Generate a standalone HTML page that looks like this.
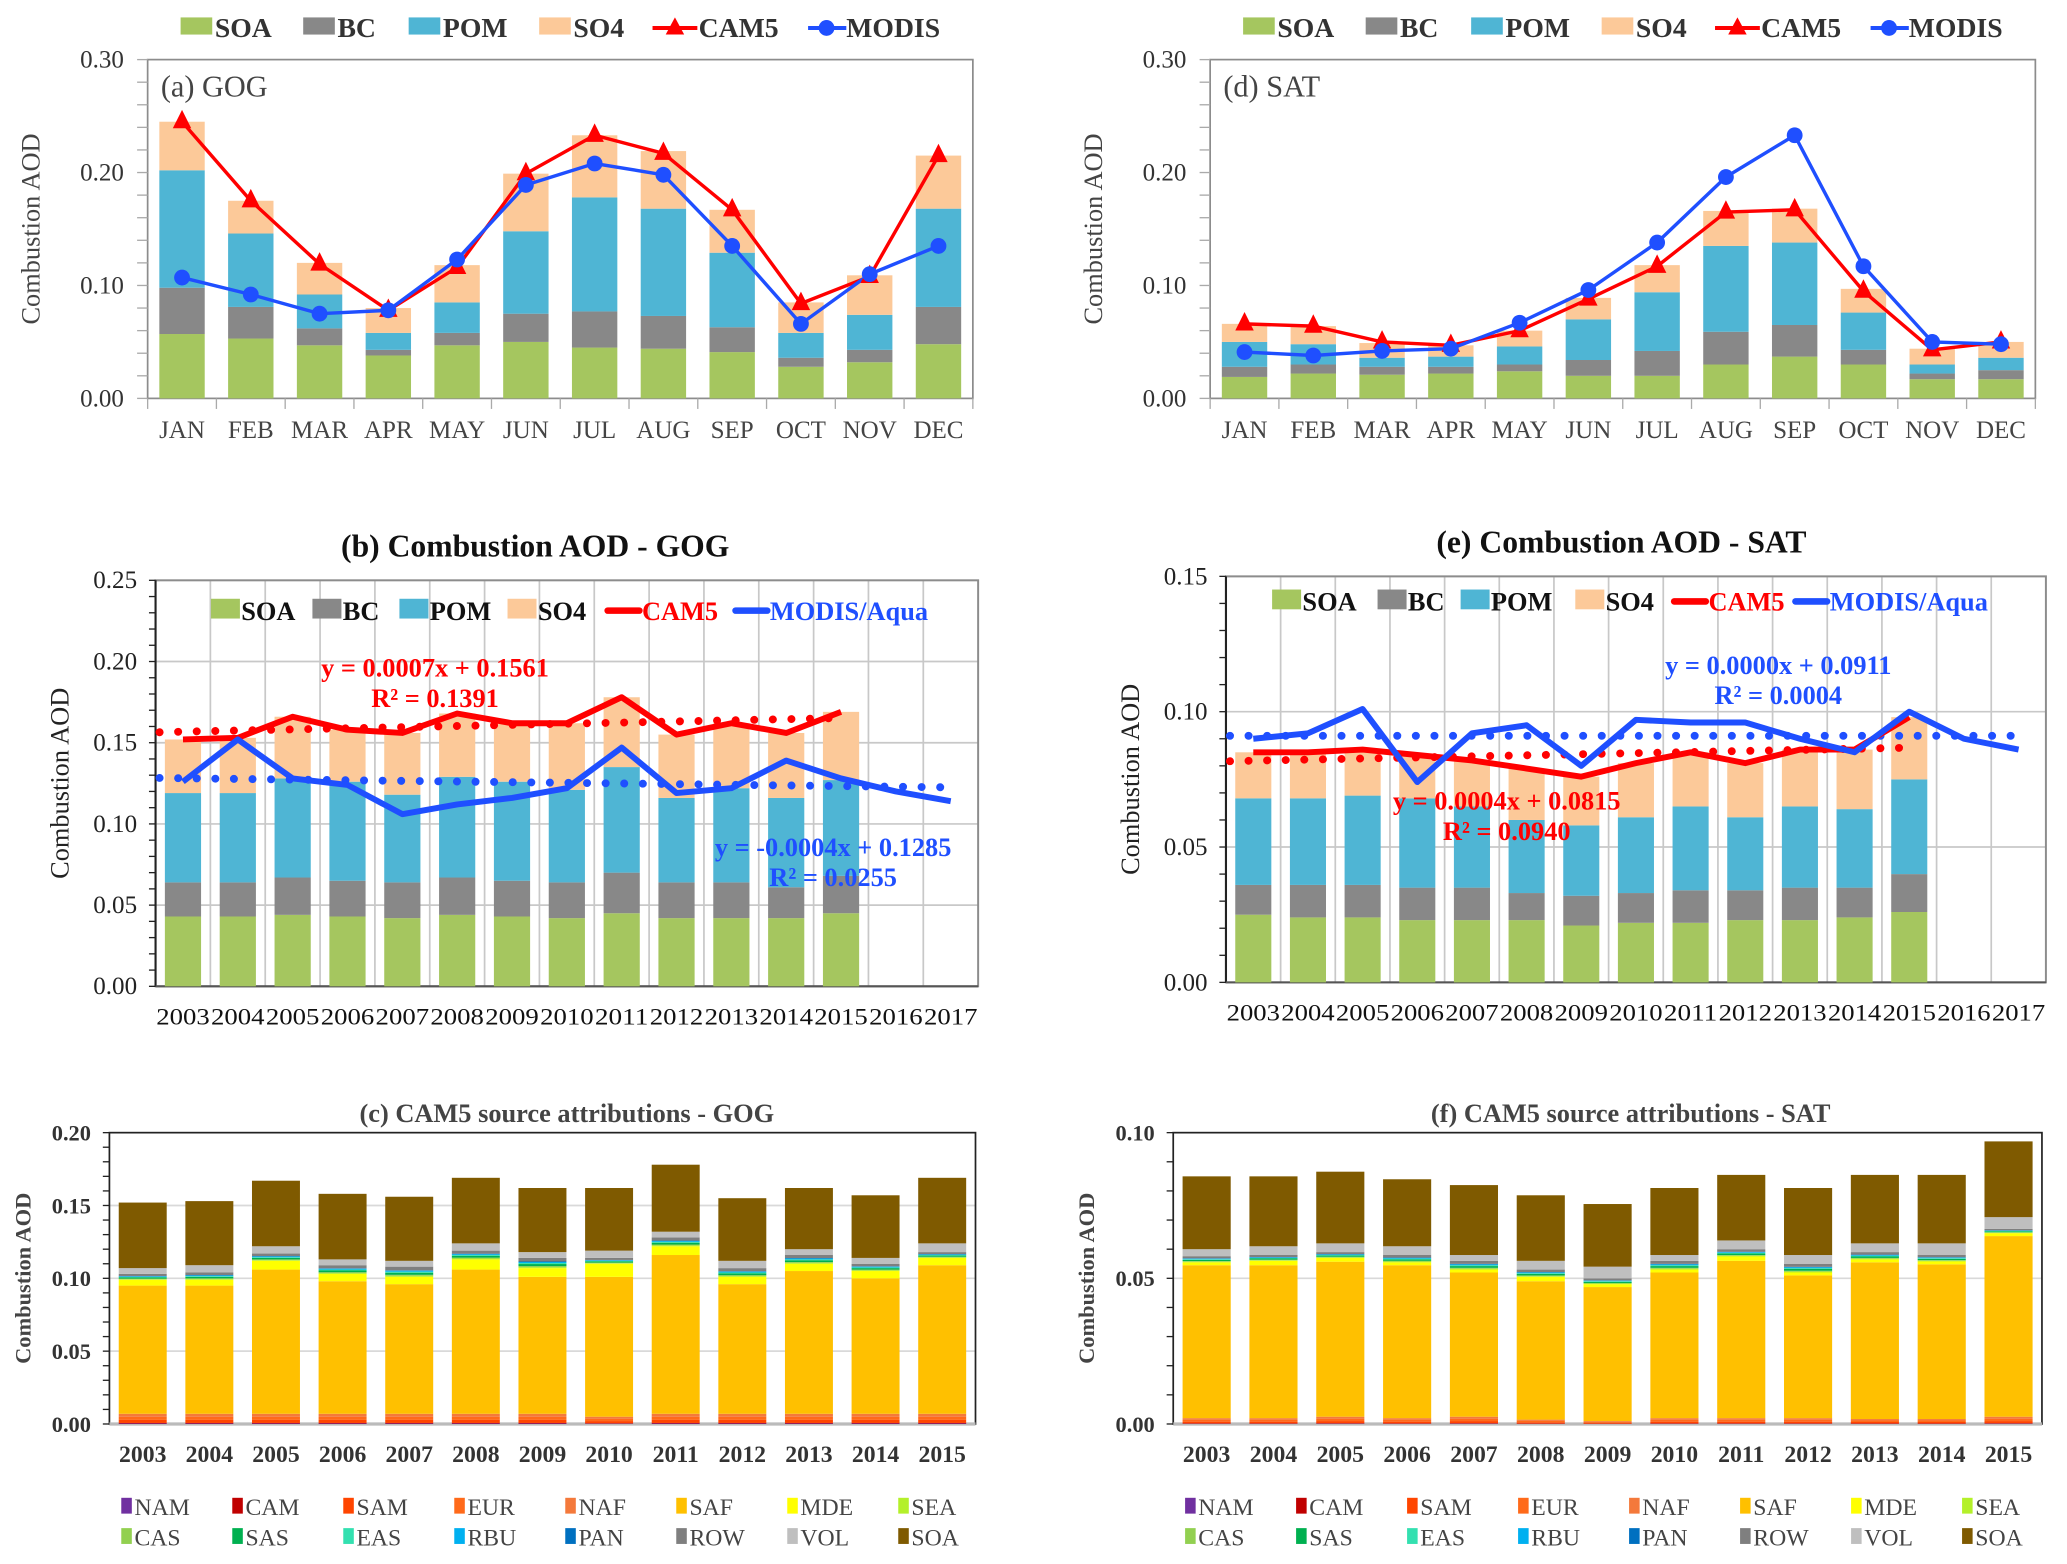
<!DOCTYPE html>
<html><head><meta charset="utf-8"><style>
html,body{margin:0;padding:0;background:#fff;}
svg{display:block;}
text{font-family:"Liberation Serif",serif;}
</style></head><body>
<svg id="fig" xmlns="http://www.w3.org/2000/svg" width="2067" height="1564" viewBox="0 0 1568 1186"></svg>
<script>
// ---------- DATA ----------
const months = ["JAN","FEB","MAR","APR","MAY","JUN","JUL","AUG","SEP","OCT","NOV","DEC"];
const years15 = ["2003","2004","2005","2006","2007","2008","2009","2010","2011","2012","2013","2014","2015","2016","2017"];
const years13 = ["2003","2004","2005","2006","2007","2008","2009","2010","2011","2012","2013","2014","2015"];
// panel a (GOG monthly) cumulative tops
const aSOA = [0.057,0.053,0.047,0.038,0.047,0.050,0.045,0.044,0.041,0.028,0.032,0.048];
const aBC  = [0.098,0.081,0.062,0.043,0.058,0.075,0.077,0.073,0.063,0.036,0.043,0.081];
const aPOM = [0.202,0.146,0.092,0.058,0.085,0.148,0.178,0.168,0.129,0.058,0.074,0.168];
const aSO4 = [0.245,0.175,0.120,0.080,0.118,0.199,0.233,0.219,0.167,0.085,0.109,0.215];
const aCAM = [0.245,0.175,0.119,0.078,0.116,0.199,0.233,0.217,0.167,0.084,0.108,0.215];
const aMOD = [0.107,0.092,0.075,0.078,0.123,0.189,0.208,0.198,0.135,0.066,0.110,0.135];
// panel d (SAT monthly)
const dSOA = [0.019,0.022,0.021,0.022,0.024,0.020,0.020,0.030,0.037,0.030,0.017,0.017];
const dBC  = [0.028,0.030,0.028,0.028,0.030,0.034,0.042,0.059,0.065,0.043,0.022,0.025];
const dPOM = [0.050,0.048,0.036,0.037,0.046,0.070,0.094,0.135,0.138,0.076,0.030,0.036];
const dSO4 = [0.066,0.064,0.049,0.047,0.060,0.089,0.118,0.166,0.168,0.097,0.044,0.050];
const dCAM = [0.066,0.064,0.050,0.047,0.060,0.088,0.117,0.165,0.167,0.095,0.043,0.050];
const dMOD = [0.041,0.038,0.042,0.044,0.067,0.096,0.138,0.196,0.233,0.117,0.050,0.048];
// panel b (GOG annual)
const bSOA = [0.043,0.043,0.044,0.043,0.042,0.044,0.043,0.042,0.045,0.042,0.042,0.042,0.045];
const bBC  = [0.064,0.064,0.067,0.065,0.064,0.067,0.065,0.064,0.070,0.064,0.064,0.061,0.068];
const bPOM = [0.119,0.119,0.128,0.126,0.118,0.129,0.126,0.121,0.135,0.116,0.122,0.116,0.127];
const bSO4 = [0.152,0.153,0.166,0.158,0.156,0.168,0.162,0.162,0.178,0.155,0.162,0.156,0.169];
const bCAM = [0.152,0.153,0.166,0.158,0.156,0.168,0.162,0.162,0.178,0.155,0.162,0.156,0.169];
const bMOD = [0.126,0.152,0.128,0.124,0.106,0.112,0.116,0.122,0.147,0.119,0.122,0.139,0.128,0.120,0.114];
const bCamFit = [0.0007,0.1561];
const bModFit = [-0.0004,0.1285];
// panel e (SAT annual)
const eSOA = [0.025,0.024,0.024,0.023,0.023,0.023,0.021,0.022,0.022,0.023,0.023,0.024,0.026];
const eBC  = [0.036,0.036,0.036,0.035,0.035,0.033,0.032,0.033,0.034,0.034,0.035,0.035,0.040];
const ePOM = [0.068,0.068,0.069,0.068,0.065,0.060,0.058,0.061,0.065,0.061,0.065,0.064,0.075];
const eSO4 = [0.085,0.085,0.086,0.084,0.082,0.079,0.076,0.081,0.085,0.081,0.086,0.086,0.098];
const eCAM = [0.085,0.085,0.086,0.084,0.082,0.079,0.076,0.081,0.085,0.081,0.086,0.086,0.098];
const eMOD = [0.090,0.092,0.101,0.074,0.092,0.095,0.080,0.097,0.096,0.096,0.090,0.085,0.100,0.090,0.086];
const eCamFit = [0.0004,0.0815];
const eModFit = [0.0000,0.0911];
// panel c (GOG source attribution) cumulative tops
const cSAF = [0.095,0.095,0.106,0.098,0.096,0.106,0.101,0.101,0.116,0.096,0.105,0.100,0.109];
const cMDE = [0.099,0.099,0.112,0.103,0.101,0.113,0.107,0.110,0.122,0.101,0.110,0.105,0.114];
const cROW = [0.103,0.104,0.117,0.109,0.108,0.119,0.114,0.114,0.128,0.107,0.116,0.110,0.118];
const cVOL = [0.107,0.109,0.122,0.113,0.112,0.124,0.118,0.119,0.132,0.112,0.120,0.114,0.124];
const cSOA = [0.152,0.153,0.167,0.158,0.156,0.169,0.162,0.162,0.178,0.155,0.162,0.157,0.169];
const cBase = [0.007,0.007,0.007,0.007,0.007,0.007,0.007,0.005,0.007,0.007,0.007,0.007,0.007];
// panel f (SAT source attribution)
const fSAF = [0.0545,0.0545,0.0557,0.0545,0.052,0.049,0.047,0.052,0.056,0.051,0.0555,0.0548,0.0645];
const fMDE = [0.0555,0.056,0.057,0.0555,0.053,0.0505,0.048,0.053,0.0575,0.052,0.0565,0.0558,0.0655];
const fROW = [0.0576,0.058,0.059,0.058,0.056,0.053,0.050,0.056,0.060,0.055,0.059,0.058,0.067];
const fVOL = [0.060,0.061,0.062,0.061,0.058,0.056,0.054,0.058,0.063,0.058,0.062,0.062,0.071];
const fSOA = [0.085,0.085,0.0866,0.084,0.082,0.0785,0.0755,0.081,0.0855,0.081,0.0855,0.0855,0.097];
const fBase = [0.002,0.002,0.0025,0.002,0.0025,0.0015,0.001,0.002,0.002,0.002,0.0017,0.0017,0.0025];
const srcNames = ["NAM","CAM","SAM","EUR","NAF","SAF","MDE","SEA","CAS","SAS","EAS","RBU","PAN","ROW","VOL","SOA"];
const srcColors = ["#7030a0","#c00000","#ff4500","#ff6a1a","#f4793b","#ffc000","#ffff00","#b4f02a","#92d050","#00b050","#33e0b0","#00b0f0","#0070c0","#7f7f7f","#bfbfbf","#7f5a00"];

// ---------- helpers ----------
const NS="http://www.w3.org/2000/svg";
const svg=document.getElementById('fig');
function el(tag,attrs,parent){const e=document.createElementNS(NS,tag);for(const k in attrs)e.setAttribute(k,attrs[k]);(parent||svg).appendChild(e);return e;}
function txt(s,attrs,parent){const e=el('text',attrs,parent);e.textContent=s;return e;}
const C={SOA:"#9bbb59",BC:"#7f7f7f",POM:"#4bacc6",SO4:"#fac090",CAM:"#ff0000",MOD:"#1f4fff"};
const cB={SOA:"#a5c65f",BC:"#888888",POM:"#4fb5d4",SO4:"#fcc999"};

function axis(x0,x1,y0,y1,vmax){const yS=v=>y0-(v/vmax)*(y0-y1);return yS;}

// ---------- monthly panels (a, d) ----------
function monthly(px,label,SOA,BC,POM,SO4,CAM,MOD){
  const x0=px, x1=px+626, y0=302, y1=45, vmax=0.30;
  const g=el('g',{});
  
  
  const yS=v=>y0-(v/vmax)*(y0-y1);
  const bw=(x1-x0)/months.length;
  const xC=i=>x0+bw*(i+0.5);
  const fr=el('rect',{x:x0,y:y1,width:x1-x0,height:y0-y1,fill:'none',stroke:'#8c8c8c','stroke-width':1.3},g);
  
  
  [0,0.1,0.2,0.3].forEach(v=>{
    const t=txt(v.toFixed(2),{x:x0-18,y:yS(v)+6,'text-anchor':'end','font-size':19,fill:'#333'},g);
    
    
  });
  for(let k=0;k<=15;k++){const v=k*0.02;el('line',{x1:x0-8,x2:x0,y1:yS(v),y2:yS(v),stroke:'#aaa','stroke-width':1},g);}
  for(let i=0;i<=months.length;i++){el('line',{x1:x0+bw*i,x2:x0+bw*i,y1:y0,y2:y0+8,stroke:'#aaa','stroke-width':1},g);}
  const yt=txt('Combustion AOD',{x:0,y:0,transform:`translate(${x0-82},${(y0+y1)/2}) rotate(-90)`,'text-anchor':'middle','font-size':20,fill:'#444'},g);
  
  
  const pl=txt(label,{x:x0+10,y:y1+28,'font-size':23,fill:'#444'},g);
  
  
  months.forEach((m,i)=>{
    const w=bw*0.66,x=xC(i)-w/2;
    const segs=[[0,SOA[i],cB.SOA],[SOA[i],BC[i],cB.BC],[BC[i],POM[i],cB.POM],[POM[i],SO4[i],cB.SO4]];
    segs.forEach((s,j)=>{const r=el('rect',{x:x,y:yS(s[1]),width:w,height:yS(s[0])-yS(s[1]),fill:s[2]},g);
      
      });
    const t=txt(m,{x:xC(i),y:y0+30,'text-anchor':'middle','font-size':19,fill:'#444'},g);
    
    
  });
  const lc=el('polyline',{points:CAM.map((v,i)=>xC(i)+','+yS(v)).join(' '),fill:'none',stroke:C.CAM,'stroke-width':2.6},g);
  
  
  const lm=el('polyline',{points:MOD.map((v,i)=>xC(i)+','+yS(v)).join(' '),fill:'none',stroke:C.MOD,'stroke-width':2.6},g);
  
  
  CAM.forEach((v,i)=>{const x=xC(i),y=yS(v);const p=el('polygon',{points:`${x},${y-9} ${x-7},${y+5} ${x+7},${y+5}`,fill:C.CAM},g);
    
    });
  MOD.forEach((v,i)=>{const c=el('circle',{cx:xC(i),cy:yS(v),r:6,fill:C.MOD},g);
    
    });
  // legend
  const lx=px+25, ly=21;
  const items=[['SOA',cB.SOA,0],['BC',cB.BC,93],['POM',cB.POM,173],['SO4',cB.SO4,272]];
  items.forEach(it=>{
    const r=el('rect',{x:lx+it[2],y:ly-8,width:24,height:13,fill:it[1]},g);
    
    
    const t=txt(it[0],{x:lx+it[2]+26,y:ly+7,'font-size':21,'font-weight':'bold',fill:'#333'},g);
    
    
  });
  el('line',{x1:lx+358,x2:lx+392,y1:ly,y2:ly,stroke:C.CAM,'stroke-width':3},g);
  el('polygon',{points:`${lx+375},${ly-8} ${lx+368},${ly+5} ${lx+382},${ly+5}`,fill:C.CAM},g);
  const t1=txt('CAM5',{x:lx+393,y:ly+7,'font-size':21,'font-weight':'bold',fill:'#333'},g);
  
  
  el('line',{x1:lx+476,x2:lx+505,y1:ly,y2:ly,stroke:C.MOD,'stroke-width':3},g);
  el('circle',{cx:lx+490,cy:ly,r:6,fill:C.MOD},g);
  const t2=txt('MODIS',{x:lx+505,y:ly+7,'font-size':21,'font-weight':'bold',fill:'#333'},g);
  
  
}
monthly(112,'(a) GOG',aSOA,aBC,aPOM,aSO4,aCAM,aMOD);
monthly(918,'(d) SAT',dSOA,dBC,dPOM,dSO4,dCAM,dMOD);

// ---------- annual panels (b, e) ----------
function annual(o){
  const {x0,x1,y0,y1,vmax,step,minor,title,tx,ty,SOA,BC,POM,SO4,CAM,MOD,camFit,modFit,leg,ly,camEq,modEq,key}=o;
  const g=el('g',{});
  
  
  const yS=v=>y0-(v/vmax)*(y0-y1);
  const bw=(x1-x0)/years15.length;
  const xC=i=>x0+bw*(i+0.5);
  for(let v=step;v<=vmax+1e-9;v+=step){el('line',{x1:x0,x2:x1,y1:yS(v),y2:yS(v),stroke:'#c8c8c8','stroke-width':1.3},g);}
  for(let i=1;i<years15.length;i++){el('line',{x1:x0+bw*i,x2:x0+bw*i,y1:y1,y2:y0,stroke:'#c8c8c8','stroke-width':1.3},g);}
  el('rect',{x:x0,y:y1,width:x1-x0,height:y0-y1,fill:'none',stroke:'#8c8c8c','stroke-width':1.5},g);
  el('line',{x1:x0,x2:x0,y1:y1,y2:y0,stroke:'#222','stroke-width':1.6},g);
  el('line',{x1:x0,x2:x1,y1:y0,y2:y0,stroke:'#555','stroke-width':1.6},g);
  for(let v=0;v<=vmax+1e-9;v+=minor){el('line',{x1:x0-5,x2:x0,y1:yS(v),y2:yS(v),stroke:'#222','stroke-width':1},g);}
  for(let v=0;v<=vmax+1e-9;v+=step){
    const t=txt(v.toFixed(2),{x:x0-14,y:yS(v)+6,'text-anchor':'end','font-size':19,fill:'#222'},g);
    
    
  }
  const yt=txt('Combustion AOD',{x:0,y:0,transform:`translate(${x0-66},${(y0+y1)/2}) rotate(-90)`,'text-anchor':'middle','font-size':20,fill:'#222'},g);
  
  
  const tt=txt(title,{x:tx,y:ty,'text-anchor':'middle','font-size':24,'font-weight':'bold',fill:'#111'},g);
  
  
  years15.forEach((yr,i)=>{
    const t=txt(yr,{x:xC(i),y:y0+29,'text-anchor':'middle','font-size':18,fill:'#111','textLength':bw-1,lengthAdjust:'spacingAndGlyphs'},g);
    
    
  });
  SOA.forEach((v,i)=>{
    const w=bw*0.66,x=xC(i)-w/2;
    const segs=[[0,SOA[i],cB.SOA],[SOA[i],BC[i],cB.BC],[BC[i],POM[i],cB.POM],[POM[i],SO4[i],cB.SO4]];
    segs.forEach((s,j)=>{const r=el('rect',{x:x,y:yS(s[1]),width:w,height:yS(s[0])-yS(s[1]),fill:s[2]},g);
      
      });
  });
  // trend dots
  const dotsC=[];for(let i=0;i<CAM.length;i++){dotsC.push(i+1);}
  const trendC=el('polyline',{points:[x0+3].concat(dotsC.map(n=>xC(n-1))).map((x,k)=>{const n=k===0?0.5:dotsC[k-1];return x+','+yS(camFit[0]*n+camFit[1]);}).join(' '),fill:'none',stroke:C.CAM,'stroke-width':6,'stroke-dasharray':'0.1 14','stroke-linecap':'round'},g);
  
  
  const dotsM=[];for(let i=0;i<MOD.length;i++){dotsM.push(i+1);}
  const trendM=el('polyline',{points:[x0+3].concat(dotsM.map(n=>xC(n-1))).map((x,k)=>{const n=k===0?0.5:dotsM[k-1];return x+','+yS(modFit[0]*n+modFit[1]);}).join(' '),fill:'none',stroke:C.MOD,'stroke-width':6,'stroke-dasharray':'0.1 14','stroke-linecap':'round'},g);
  
  
  const lc=el('polyline',{points:CAM.map((v,i)=>xC(i)+','+yS(v)).join(' '),fill:'none',stroke:C.CAM,'stroke-width':4.5,'stroke-linejoin':'round'},g);
  
  
  const lm=el('polyline',{points:MOD.map((v,i)=>xC(i)+','+yS(v)).join(' '),fill:'none',stroke:C.MOD,'stroke-width':4.5,'stroke-linejoin':'round'},g);
  
  
  // equations
  [[camEq,C.CAM,'cam5'],[modEq,'#1f4fff','modis']].forEach(e=>{
    const a=txt(e[0][0],{x:e[0][2],y:e[0][3],'text-anchor':'middle','font-size':20,'font-weight':'bold',fill:e[1]},g);
    
    
    const b=txt(e[0][1],{x:e[0][2],y:e[0][3]+23,'text-anchor':'middle','font-size':20,'font-weight':'bold',fill:e[1]},g);
    
    
  });
  // legend
  const items=[['SOA',cB.SOA],['BC',cB.BC],['POM',cB.POM],['SO4',cB.SO4]];
  items.forEach((it,k)=>{
    const lx=leg[k];
    const r=el('rect',{x:lx,y:ly-9,width:22,height:15,fill:it[1]},g);
    
    
    const t=txt(it[0],{x:lx+23,y:ly+7,'font-size':20,'font-weight':'bold',fill:'#111'},g);
    
    
  });
  el('line',{x1:leg[4],x2:leg[4]+24,y1:ly,y2:ly,stroke:C.CAM,'stroke-width':5,'stroke-linecap':'round'},g);
  const t1=txt('CAM5',{x:leg[4]+26,y:ly+7,'font-size':20,'font-weight':'bold',fill:C.CAM},g);
  
  
  el('line',{x1:leg[5],x2:leg[5]+24,y1:ly,y2:ly,stroke:C.MOD,'stroke-width':5,'stroke-linecap':'round'},g);
  const t2=txt('MODIS/Aqua',{x:leg[5]+26,y:ly+7,'font-size':20,'font-weight':'bold',fill:'#1f4fff'},g);
  
  
}
annual({key:'b',x0:118,x1:742,y0:748,y1:440,vmax:0.25,step:0.05,minor:0.01,title:'(b) Combustion AOD - GOG',tx:406,ty:422,
  SOA:bSOA,BC:bBC,POM:bPOM,SO4:bSO4,CAM:bCAM,MOD:bMOD,camFit:bCamFit,modFit:bModFit,
  leg:[160,237,303,385,461,558],ly:463,camEq:['y = 0.0007x + 0.1561','R² = 0.1391',330,513],modEq:['y = -0.0004x + 0.1285','R² = 0.0255',632,649]});
annual({key:'e',x0:930,x1:1552,y0:745,y1:437,vmax:0.15,step:0.05,minor:0.01,title:'(e) Combustion AOD - SAT',tx:1230,ty:419,
  SOA:eSOA,BC:eBC,POM:ePOM,SO4:eSO4,CAM:eCAM,MOD:eMOD,camFit:eCamFit,modFit:eModFit,
  leg:[965,1045,1108,1195,1270,1362],ly:456,camEq:['y = 0.0004x + 0.0815','R² = 0.0940',1143,614],modEq:['y = 0.0000x + 0.0911','R² = 0.0004',1349,511]});

// ---------- source attribution panels (c, f) ----------
function sources(o){
  const {key,x0,x1,y0,y1,vmax,step,minor,title,tx,Base,SAF,MDE,ROW,VOL,SOA,legX}=o;
  const g=el('g',{});
  
  
  const yS=v=>y0-(v/vmax)*(y0-y1);
  const bw=(x1-x0)/years13.length;
  const xC=i=>x0+bw*(i+0.5);
  for(let v=step;v<vmax-1e-9;v+=step){el('line',{x1:x0,x2:x1,y1:yS(v),y2:yS(v),stroke:'#d9d9d9','stroke-width':1.3},g);}
  el('rect',{x:x0,y:y1,width:x1-x0,height:y0-y1,fill:'none',stroke:'#222','stroke-width':1.3},g);
  el('line',{x1:x0,x2:x1,y1:y0,y2:y0,stroke:'#bbb','stroke-width':2.5},g);
  for(let v=0;v<=vmax+1e-9;v+=minor){el('line',{x1:x0-5,x2:x0,y1:yS(v),y2:yS(v),stroke:'#222','stroke-width':1},g);}
  for(let v=0;v<=vmax+1e-9;v+=step){
    const t=txt(v.toFixed(2),{x:x0-14,y:yS(v)+6,'text-anchor':'end','font-size':17,'font-weight':'bold',fill:'#333'},g);
    
    
  }
  const yt=txt('Combustion AOD',{x:0,y:0,transform:`translate(${x0-60},${(y0+y1)/2}) rotate(-90)`,'text-anchor':'middle','font-size':17,'font-weight':'bold',fill:'#444'},g);
  
  
  const tt=txt(title,{x:tx,y:y1-8,'text-anchor':'middle','font-size':20,'font-weight':'bold',fill:'#444'},g);
  
  
  years13.forEach((yr,i)=>{
    const w=bw*0.72,x=xC(i)-w/2;
    const b=Base[i];
    // small fixed split of the regional base and minor sources
    const stack=[
      [0,b*0.05,srcColors[0]],[b*0.05,b*0.1,srcColors[1]],[b*0.1,b*0.4,srcColors[2]],[b*0.4,b*0.7,srcColors[3]],[b*0.7,b,srcColors[4]],
      [b,SAF[i],srcColors[5]],[SAF[i],MDE[i],srcColors[6]],
      [MDE[i],MDE[i]+(ROW[i]-MDE[i])*0.1,srcColors[7]],
      [MDE[i]+(ROW[i]-MDE[i])*0.1,MDE[i]+(ROW[i]-MDE[i])*0.2,srcColors[8]],
      [MDE[i]+(ROW[i]-MDE[i])*0.2,MDE[i]+(ROW[i]-MDE[i])*0.4,srcColors[9]],
      [MDE[i]+(ROW[i]-MDE[i])*0.4,MDE[i]+(ROW[i]-MDE[i])*0.5,srcColors[10]],
      [MDE[i]+(ROW[i]-MDE[i])*0.5,MDE[i]+(ROW[i]-MDE[i])*0.6,srcColors[11]],
      [MDE[i]+(ROW[i]-MDE[i])*0.6,MDE[i]+(ROW[i]-MDE[i])*0.65,srcColors[12]],
      [MDE[i]+(ROW[i]-MDE[i])*0.65,ROW[i],srcColors[13]],
      [ROW[i],VOL[i],srcColors[14]],[VOL[i],SOA[i],srcColors[15]]];
    stack.forEach((s,j)=>{const r=el('rect',{x:x,y:yS(s[1]),width:w,height:Math.max(0,yS(s[0])-yS(s[1])),fill:s[2]},g);
      
      });
    const t=txt(yr,{x:xC(i),y:y0+29,'text-anchor':'middle','font-size':18,'font-weight':'bold',fill:'#333'},g);
    
    
  });
  srcNames.forEach((n,k)=>{
    const lx=legX+(k%8)*84.2, ly=k<8?1143:1166;
    const r=el('rect',{x:lx,y:ly-7,width:8,height:12,fill:srcColors[k]},g);
    
    
    const t=txt(n,{x:lx+10,y:ly+6,'font-size':18,fill:'#444'},g);
    
    
  });
}
sources({key:'c',x0:83,x1:740,y0:1080,y1:859,vmax:0.20,step:0.05,minor:0.01,title:'(c) CAM5 source attributions - GOG',tx:430,
  Base:cBase,SAF:cSAF,MDE:cMDE,ROW:cROW,VOL:cVOL,SOA:cSOA,legX:92});
sources({key:'f',x0:890,x1:1549,y0:1080,y1:859,vmax:0.10,step:0.05,minor:0.01,title:'(f) CAM5 source attributions - SAT',tx:1237,
  Base:fBase,SAF:fSAF,MDE:fMDE,ROW:fROW,VOL:fVOL,SOA:fSOA,legX:899});
</script>
</body></html>
